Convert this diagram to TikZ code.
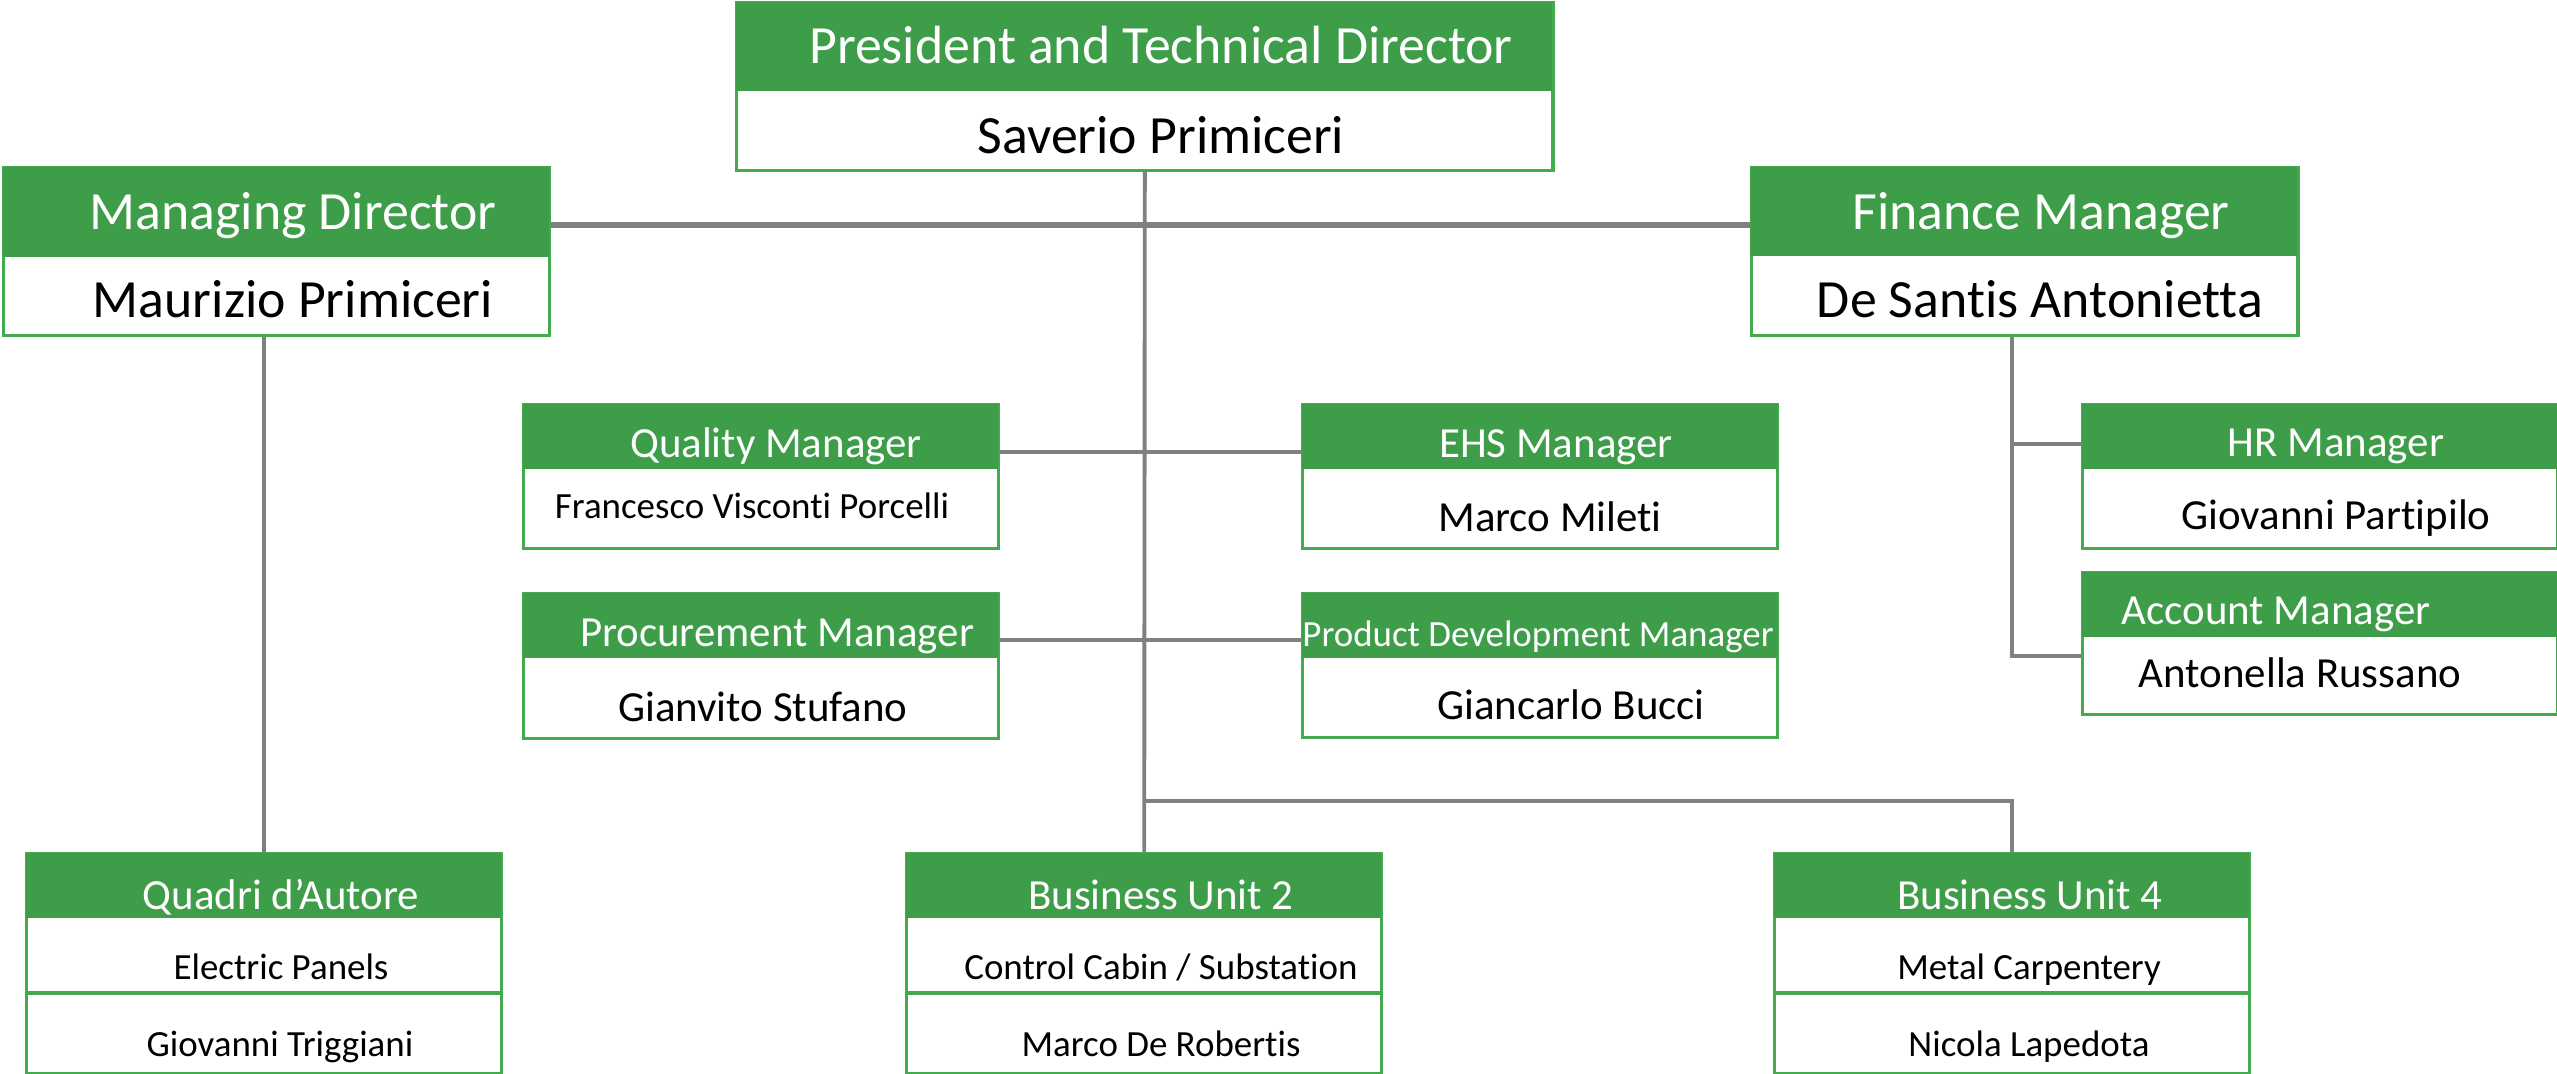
\documentclass[tikz,border=0pt]{standalone}
\usepackage{fontspec}
\setmainfont{Carlito}[Ligatures={TeX,NoCommon}]
\definecolor{headgreen}{RGB}{61,157,72}
\definecolor{boxgreen}{RGB}{68,170,78}
\definecolor{linegray}{RGB}{128,128,128}

\begin{document}
\begin{tikzpicture}[x=0.01cm, y=-0.01cm,
    frame/.style={draw=boxgreen, line width=0.9pt, fill=white, anchor=north west, inner sep=0pt},
    head/.style={fill=headgreen, anchor=north west, inner sep=0pt},
    link/.style={draw=linegray, line width=1.1pt},
    bigtext/.style={anchor=base, inner sep=0pt, font=\fontsize{15.3}{18}\selectfont},
    midtext/.style={anchor=base, inner sep=0pt, font=\fontsize{12.2}{14}\selectfont},
    smalltext/.style={anchor=base, inner sep=0pt, font=\fontsize{10.5}{12}\selectfont},
    wtext/.style={text=white}]
    \useasboundingbox (0,0) rectangle (2557,1074);

    % top row
    \node[frame, minimum width=8.16cm, minimum height=1.68cm] (pres) at (735,1) {};
    \node[head, minimum width=8.16cm, minimum height=0.89cm] (pres-h) at (pres.north west) {};
    \node[frame, minimum width=5.46cm, minimum height=1.68cm] (md) at (2,166) {};
    \node[head, minimum width=5.46cm, minimum height=0.90cm] (md-h) at (md.north west) {};
    \node[frame, minimum width=5.46cm, minimum height=1.68cm] (fm) at (1750,166) {};
    \node[head, minimum width=5.46cm, minimum height=0.89cm] (fm-h) at (fm.north west) {};

    % managers
    \foreach \n/\x/\y/\h in {qm/522/403/1.44, ehs/1301/403/1.44, pm/522/592/1.45,
                            pdm/1301/592/1.44, hr/2081/403/1.44, acc/2081/571/1.42} {
        \node[frame, minimum width=4.75cm, minimum height=\h cm] (\n) at (\x,\y) {};
        \node[head, minimum width=4.75cm, minimum height=0.65cm] (\n-h) at (\n.north west) {};
    }

    % business units
    \foreach \n/\x in {qa/25, bu2/905, bu4/1773} {
        \node[frame, minimum width=4.75cm, minimum height=2.20cm] (\n) at (\x,852) {};
        \node[head, minimum width=4.75cm, minimum height=0.65cm] (\n-h) at (\n.north west) {};
        \draw[boxgreen, line width=0.9pt] (\n.west |- 0,993) -- (\n.east |- 0,993);
    }

    \node[bigtext, wtext] (pres-t) at (1161,64) {President and Technical Director};
    \node[bigtext] (pres-n) at (1161,154) {Saverio Primiceri};
    \node[bigtext, wtext] (md-t) at (293,230) {Managing Director};
    \node[bigtext] (md-n) at (293,318) {Maurizio Primiceri};
    \node[bigtext, wtext] (fm-t) at (2041,230) {Finance Manager};
    \node[bigtext] (fm-n) at (2040,318) {De Santis Antonietta};

    \node[midtext, wtext] (qm-t) at (776,458) {Quality Manager};
    \node[smalltext] (qm-n) at (752,519) {Francesco Visconti Porcelli};
    \node[midtext, wtext] (ehs-t) at (1556,458) {EHS Manager};
    \node[midtext] (ehs-n) at (1550,532) {Marco Mileti};
    \node[midtext, wtext] (pm-t) at (777,647) {Procurement Manager};
    \node[midtext] (pm-n) at (763,722) {Gianvito Stufano};
    \node[smalltext, wtext] (pdm-t) at (1538,647) {Product Development Manager};
    \node[midtext] (pdm-n) at (1571,720) {Giancarlo Bucci};
    \node[midtext, wtext] (hr-t) at (2336,457) {HR Manager};
    \node[midtext] (hr-n) at (2336,530) {Giovanni Partipilo};
    \node[midtext, wtext] (acc-t) at (2276,625) {Account Manager};
    \node[midtext] (acc-n) at (2300,688) {Antonella Russano};

    \node[midtext, wtext] (qa-t) at (281,910) {Quadri d’Autore};
    \node[smalltext] (qa-a) at (281,980) {Electric Panels};
    \node[smalltext] (qa-n) at (280,1057) {Giovanni Triggiani};
    \node[midtext, wtext] (bu2-t) at (1161,910) {Business Unit 2};
    \node[smalltext] (bu2-a) at (1161,980) {Control Cabin / Substation};
    \node[smalltext] (bu2-n) at (1161,1057) {Marco De Robertis};
    \node[midtext, wtext] (bu4-t) at (2030,910) {Business Unit 4};
    \node[smalltext] (bu4-a) at (2029,980) {Metal Carpentery};
    \node[smalltext] (bu4-n) at (2029,1057) {Nicola Lapedota};

    % connectors
    \coordinate (j0) at (1143,225);
    \coordinate (j1) at (1143,801);
    \coordinate (qj) at ([yshift=-0.16cm]qm-h.east);
    \coordinate (pj) at ([yshift=-0.15cm]pm-h.east);
    \coordinate (hrj) at ([yshift=-0.08cm]hr-h.west);
    \coordinate (accj) at ([yshift=-0.12cm]acc.west);
    \draw[link, line width=1.5pt] (md.east |- j0) -- (fm.west |- j0);
    \draw[link] (pres.south) -- (bu2.north);
    \draw[link] (qa.north |- md.south) -- (qa.north);
    \draw[link] (qj) -- (ehs.west |- qj);
    \draw[link] (pj) -- (pdm.west |- pj);
    \draw[link] (j1) -| (bu4.north);
    \draw[link] (bu4.north |- fm.south) |- (accj);
    \draw[link] (bu4.north |- hrj) -- (hrj);
\end{tikzpicture}
\end{document}
